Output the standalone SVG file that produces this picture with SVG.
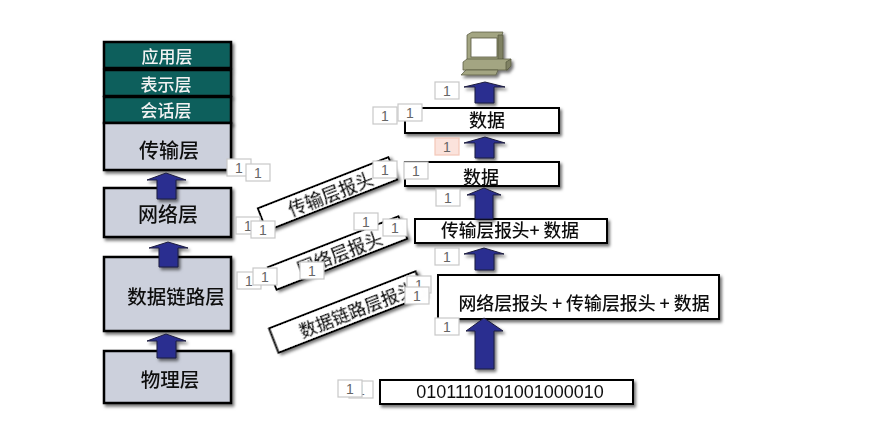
<svg xmlns="http://www.w3.org/2000/svg" width="888" height="446" viewBox="0 0 888 446">
<style>
text{font-family:"Noto Sans CJK SC","Liberation Sans",sans-serif;text-anchor:middle;dominant-baseline:central;fill:#111}
.teal{fill:#0b5f5c;stroke:#000;stroke-width:2.5}
.gray{fill:#ccd0dc;stroke:#000;stroke-width:2.5}
.white{fill:#fff;stroke:#000;stroke-width:2}
.lt{fill:#f2f2f2;font-size:17px;font-weight:500}
.dk{font-size:18px;font-weight:500}
.bit{font-family:"Liberation Sans",sans-serif;font-size:18px}
.arrow{fill:#2b2f90;stroke:#1c1c3c;stroke-width:1}
#t rect{fill:#fff;stroke:#c8c8c8;stroke-width:1.2}
#tp rect{fill:#fbe3dc;stroke:#f3c7b8;stroke-width:1.2}
#t text,#tp text{font-family:"Liberation Sans",sans-serif;font-size:14px;fill:#666}
.ol1{fill:#a3a582;stroke:#55563e;stroke-width:.7}
.ol2{fill:#7f8163;stroke:#55563e;stroke-width:.7}
</style>
<defs>
<filter id="sh" x="-10%" y="-20%" width="125%" height="150%"><feDropShadow dx="2" dy="2.5" stdDeviation="1.6" flood-color="#000" flood-opacity=".55"/></filter>
<g id="t"><rect width="24" height="17"/><text x="12" y="8.500">1</text></g>
<g id="tp"><rect width="24" height="17"/><text x="12" y="8.500">1</text></g>
</defs>

<g id="n-app" filter="url(#sh)"><rect class="teal" x="104" y="42" width="127" height="26"/><text class="lt" x="167" y="55">应用层</text></g>
<g id="n-pres" filter="url(#sh)"><rect class="teal" x="104" y="70" width="127" height="26"/><text class="lt" x="166" y="83">表示层</text></g>
<g id="n-sess" filter="url(#sh)"><rect class="teal" x="104" y="97" width="127" height="26"/><text class="lt" x="166" y="109">会话层</text></g>
<g id="n-trans" filter="url(#sh)"><rect class="gray" x="104" y="123" width="127" height="47"/><text x="169" y="149" style="font-size:20px;font-weight:500">传输层</text></g>
<g id="n-net" filter="url(#sh)"><rect class="gray" x="104" y="188" width="127" height="49"/><text x="168" y="213" style="font-size:20px;font-weight:500">网络层</text></g>
<g id="n-link" filter="url(#sh)"><rect class="gray" x="104" y="257" width="127" height="74"/><text x="176" y="295" style="font-size:19.500px;font-weight:500">数据链路层</text></g>
<g id="n-phys" filter="url(#sh)"><rect class="gray" x="104" y="351" width="127" height="52"/><text x="170" y="378" style="font-size:19.500px;font-weight:500">物理层</text></g>

<g id="n-computer" filter="url(#sh)">
<path class="ol1" d="M467 35l5-3h31l-1 3v25h-35z"/>
<path class="ol2" d="M498 35h5v24l-5 2z"/>
<rect x="471" y="38" width="26" height="19" fill="#fff" stroke="#55563e" stroke-width=".8"/>
<path class="ol1" d="M463 62l4-3h44l-3 4v7h-45z"/>
<path class="ol2" d="M506 62l5-3v7l-4 4h-1z"/>
<path class="ol1" d="M466 70h32l-2 5h-35z"/>
</g>

<g id="n-d1" filter="url(#sh)"><rect class="white" x="405" y="108" width="154" height="25"/><text class="dk" x="487" y="119">数据</text></g>
<g id="n-d2" filter="url(#sh)"><rect class="white" x="405" y="162" width="154" height="24"/><text class="dk" x="481" y="176">数据</text></g>
<g id="n-d3" filter="url(#sh)"><rect class="white" x="415" y="219" width="192" height="24"/><text x="510" y="229" style="font-size:17.700px;font-weight:500">传输层报头+ 数据</text></g>
<g id="n-d4" filter="url(#sh)"><rect class="white" x="438" y="275" width="281" height="44"/><text x="584" y="302" style="font-size:17.900px;font-weight:500">网络层报头 + 传输层报头 + 数据</text></g>
<g id="n-bits" filter="url(#sh)"><rect class="white" x="380" y="380" width="253" height="24"/><text class="bit" x="510" y="392">0101110101001000010</text></g>

<g id="n-h1" filter="url(#sh)" transform="translate(327.500 194) rotate(-21.400)"><rect class="white" x="-70" y="-12" width="140" height="24"/><text x="3" y="0" style="font-size:18px;font-weight:500">传输层报头</text></g>
<g id="n-h2" filter="url(#sh)" transform="translate(337.500 253) rotate(-21.300)"><rect class="white" x="-70" y="-12" width="140" height="24"/><text x="2" y="0" style="font-size:18px;font-weight:500">网络层报头</text></g>
<g id="n-h3" filter="url(#sh)" transform="translate(347 312) rotate(-21.300)"><rect class="white" x="-78.500" y="-13" width="157" height="26"/><text x="10" y="0" style="font-size:17.500px;font-weight:500">数据链路层报头</text></g>

<g id="connectors" filter="url(#sh)">
<path class="arrow" d="M166 173L186 180H176V199H157V180H147Z"/>
<path class="arrow" d="M168 242L188 248H178V267H159V248H149Z"/>
<path class="arrow" d="M166 334L186 341H176V358H157V341H147Z"/>
<path class="arrow" d="M485 82L505 87H494V103H475V87H464Z"/>
<path class="arrow" d="M485 137L505 143H494V158H475V143H464Z"/>
<path class="arrow" d="M484 188L501 195H493V219H475V195H467Z"/>
<path class="arrow" d="M484 248L504 254H494V270H475V254H464Z"/>
<path class="arrow" d="M484 318L503 331H494V369H475V331H466Z"/>
</g>

<g id="tags" opacity=".999">
<use href="#t" x="227" y="159"/>
<use href="#t" x="246" y="164"/>
<use href="#t" x="236" y="217"/>
<use href="#t" x="251" y="221"/>
<use href="#t" x="237" y="272"/>
<use href="#t" x="253" y="268"/>
<use href="#t" x="300" y="262"/>
<use href="#t" x="354" y="213"/>
<use href="#t" x="383" y="219"/>
<use href="#t" x="373" y="161"/>
<use href="#t" x="404" y="162"/>
<use href="#t" x="435" y="82"/>
<use href="#t" x="373" y="107"/>
<use href="#t" x="398" y="104"/>
<use href="#tp" x="435" y="138"/>
<use href="#t" x="436" y="189"/>
<use href="#t" x="435" y="248"/>
<use href="#t" x="435" y="318"/>
<use href="#t" x="407" y="276"/>
<use href="#t" x="405" y="287"/>
<use href="#t" x="349" y="381"/>
<use href="#t" x="338" y="380"/>
</g>
</svg>
